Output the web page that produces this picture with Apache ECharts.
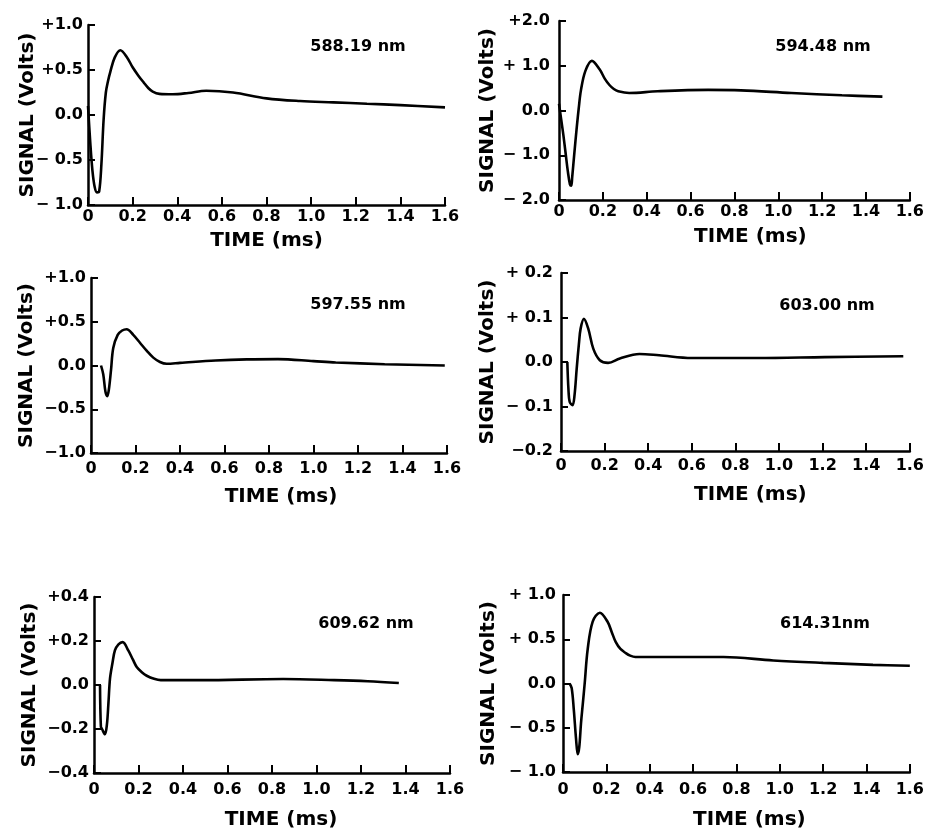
<!DOCTYPE html>
<html>
<head>
<meta charset="utf-8">
<script src="https://cdn.jsdelivr.net/npm/echarts@6/dist/echarts.min.js"></script>
<style>
html,body{margin:0;padding:0;background:#fff;}
#chart{width:927px;height:831px;}
</style>
</head>
<body>
<div id="chart"></div>
<script>
// ---------- DATA ----------
const xTickLabels = ['0', '0.2', '0.4', '0.6', '0.8', '1.0', '1.2', '1.4', '1.6'];

const wavelengths = ['588.19 nm', '594.48 nm', '597.55 nm', '603.00 nm', '609.62 nm', '614.31nm'];

// 588.19 nm
const time588 = [0, 0.01, 0.02, 0.03, 0.04, 0.05, 0.06, 0.07, 0.08, 0.09, 0.10, 0.12, 0.145, 0.175, 0.20, 0.225, 0.25, 0.27, 0.29, 0.32, 0.38, 0.45, 0.53, 0.65, 0.80, 0.95, 1.10, 1.25, 1.40, 1.60];
const signal588 = [0.1, -0.3, -0.62, -0.8, -0.86, -0.85, -0.55, -0.05, 0.25, 0.38, 0.48, 0.64, 0.72, 0.64, 0.53, 0.44, 0.36, 0.3, 0.26, 0.235, 0.23, 0.245, 0.27, 0.25, 0.185, 0.155, 0.14, 0.125, 0.11, 0.085];
const yLabels588 = ['\u2212 1.0', '\u2212 0.5', '0.0', '+0.5', '+1.0'];

// 594.48 nm
const time594 = [0, 0.01, 0.02, 0.03, 0.04, 0.05, 0.056, 0.06, 0.07, 0.08, 0.09, 0.10, 0.12, 0.15, 0.185, 0.21, 0.23, 0.25, 0.27, 0.32, 0.45, 0.68, 0.83, 1.06, 1.29, 1.475];
const signal594 = [0.15, -0.2, -0.55, -0.95, -1.35, -1.65, -1.68, -1.5, -0.95, -0.43, 0.05, 0.45, 0.88, 1.11, 0.92, 0.7, 0.57, 0.48, 0.43, 0.39, 0.43, 0.46, 0.45, 0.39, 0.34, 0.31];
const yLabels594 = ['\u2212 2.0', '\u2212 1.0', '0.0', '+ 1.0', '+2.0'];

// 597.55 nm
const time597 = [0.045, 0.055, 0.065, 0.073, 0.08, 0.09, 0.10, 0.12, 0.14, 0.16, 0.19, 0.22, 0.25, 0.28, 0.31, 0.34, 0.40, 0.56, 0.70, 0.84, 1.00, 1.10, 1.32, 1.59];
const signal597 = [0, -0.1, -0.3, -0.35, -0.28, -0.05, 0.2, 0.35, 0.40, 0.415, 0.35, 0.26, 0.17, 0.09, 0.04, 0.02, 0.03, 0.057, 0.07, 0.073, 0.05, 0.035, 0.015, 0.0];
const yLabels597 = ['\u22121.0', '\u22120.5', '0.0', '+0.5', '+1.0'];

// 603.00 nm
const time603 = [0.029, 0.034, 0.040, 0.053, 0.062, 0.072, 0.082, 0.09, 0.105, 0.125, 0.148, 0.178, 0.216, 0.27, 0.36, 0.45, 0.60, 0.90, 1.21, 1.57];
const signal603 = [0, -0.06, -0.09, -0.097, -0.075, -0.015, 0.04, 0.075, 0.097, 0.075, 0.03, 0.004, -0.002, 0.008, 0.018, 0.015, 0.009, 0.009, 0.011, 0.013];
const yLabels603 = ['\u22120.2', '\u2212 0.1', '0.0', '+ 0.1', '+ 0.2'];

// 609.62 nm
const time609 = [0.027, 0.031, 0.036, 0.049, 0.058, 0.065, 0.072, 0.083, 0.094, 0.11, 0.129, 0.154, 0.175, 0.192, 0.215, 0.237, 0.27, 0.30, 0.48, 0.85, 1.08, 1.23, 1.37];
const signal609 = [0, -0.19, -0.2, -0.224, -0.18, -0.08, 0.03, 0.1, 0.157, 0.185, 0.195, 0.157, 0.115, 0.082, 0.058, 0.042, 0.028, 0.022, 0.022, 0.027, 0.022, 0.017, 0.009];
const yLabels609 = ['\u22120.4', '\u22120.2', '0.0', '+0.2', '+0.4'];

// 614.31 nm
const time614 = [0.03, 0.04, 0.05, 0.06, 0.068, 0.075, 0.083, 0.091, 0.10, 0.114, 0.137, 0.17, 0.205, 0.225, 0.243, 0.265, 0.289, 0.31, 0.334, 0.52, 0.74, 0.97, 1.20, 1.43, 1.60];
const signal614 = [0, -0.05, -0.3, -0.62, -0.80, -0.72, -0.45, -0.24, 0.0, 0.39, 0.70, 0.80, 0.70, 0.58, 0.47, 0.39, 0.345, 0.315, 0.30, 0.30, 0.30, 0.26, 0.233, 0.211, 0.2];
const yLabels614 = ['\u2212 1.0', '\u2212 0.5', '0.0', '+ 0.5', '+ 1.0'];

// ---------- LAYOUT ----------
const FONT = 'DejaVu Sans';
const panels = [
  {t: time588, v: signal588, yl: yLabels588, ymin: -1, ymax: 1, yint: 0.5,
   grid: {left: 88, top: 25, width: 357, height: 180}, lblMargin: 4, nameGapX: 26, padX: 0, nameGapY: 50, yLblMargin: 5, title: [358, 47]},
  {t: time594, v: signal594, yl: yLabels594, ymin: -2, ymax: 2, yint: 1,
   grid: {left: 559, top: 21, width: 354, height: 179}, lblMargin: 4, nameGapX: 27, padX: 32, nameGapY: 61, yLblMargin: 9, title: [823, 47]},
  {t: time597, v: signal597, yl: yLabels597, ymin: -1, ymax: 1, yint: 0.5,
   grid: {left: 91, top: 278, width: 356, height: 175}, lblMargin: 8, nameGapX: 34, padX: 24, nameGapY: 54, yLblMargin: 5, title: [358, 305]},
  {t: time603, v: signal603, yl: yLabels603, ymin: -0.2, ymax: 0.2, yint: 0.1,
   grid: {left: 561, top: 273, width: 351, height: 178}, lblMargin: 7, nameGapX: 34, padX: 30, nameGapY: 63, yLblMargin: 8, title: [827, 306]},
  {t: time609, v: signal609, yl: yLabels609, ymin: -0.4, ymax: 0.4, yint: 0.2,
   grid: {left: 94, top: 597, width: 356, height: 178}, lblMargin: 9, nameGapX: 37, padX: 18, nameGapY: 54, yLblMargin: 5, title: [366, 624]},
  {t: time614, v: signal614, yl: yLabels614, ymin: -1, ymax: 1, yint: 0.5,
   grid: {left: 563, top: 595, width: 352, height: 178}, lblMargin: 10, nameGapX: 38, padX: 26, nameGapY: 64, yLblMargin: 7, title: [825, 624]}
];

const option = {
  backgroundColor: '#fff',
  animation: false,
  grid: [], xAxis: [], yAxis: [], series: [], graphic: []
};

panels.forEach((p, i) => {
  option.grid.push(p.grid);
  option.xAxis.push({
    gridIndex: i, type: 'value', min: 0, max: 1.6, interval: 0.2,
    axisLine: {onZero: false, lineStyle: {color: '#000', width: 2.5}},
    axisTick: {inside: true, length: 8, lineStyle: {color: '#000', width: 2}},
    splitLine: {show: false},
    axisLabel: {
      color: '#000', fontFamily: FONT, fontWeight: 'bold', fontSize: 16, margin: p.lblMargin,
      formatter: v => xTickLabels[Math.round(v / 0.2)]
    },
    name: 'TIME (ms)', nameLocation: 'middle', nameGap: p.nameGapX, nameMoveOverlap: false,
    nameTextStyle: {color: '#000', fontFamily: FONT, fontWeight: 'bold', fontSize: 20, padding: [0, 0, 0, p.padX]}
  });
  option.yAxis.push({
    gridIndex: i, type: 'value', min: p.ymin, max: p.ymax, interval: p.yint,
    axisLine: {onZero: false, lineStyle: {color: '#000', width: 2.5}},
    axisTick: {inside: true, length: 7, lineStyle: {color: '#000', width: 2}},
    splitLine: {show: false},
    axisLabel: {
      color: '#000', fontFamily: FONT, fontWeight: 'bold', fontSize: 16, margin: p.yLblMargin,
      formatter: v => p.yl[Math.round((v - p.ymin) / p.yint)]
    },
    name: 'SIGNAL (Volts)', nameLocation: 'middle', nameGap: p.nameGapY, nameRotate: 90, nameMoveOverlap: false,
    nameTextStyle: {color: '#000', fontFamily: FONT, fontWeight: 'bold', fontSize: 20}
  });
  option.series.push({
    type: 'line', xAxisIndex: i, yAxisIndex: i,
    data: p.t.map((t, k) => [t, p.v[k]]),
    showSymbol: false, smooth: 0.35,
    lineStyle: {color: '#000', width: 2.6}
  });
  option.graphic.push({
    type: 'text', x: p.title[0], y: p.title[1],
    style: {text: wavelengths[i], fill: '#000', font: 'bold 16px "DejaVu Sans"', align: 'center', verticalAlign: 'middle'}
  });
});

const chart = echarts.init(document.getElementById('chart'), null, {renderer: 'canvas'});
chart.setOption(option);
</script>
</body>
</html>
